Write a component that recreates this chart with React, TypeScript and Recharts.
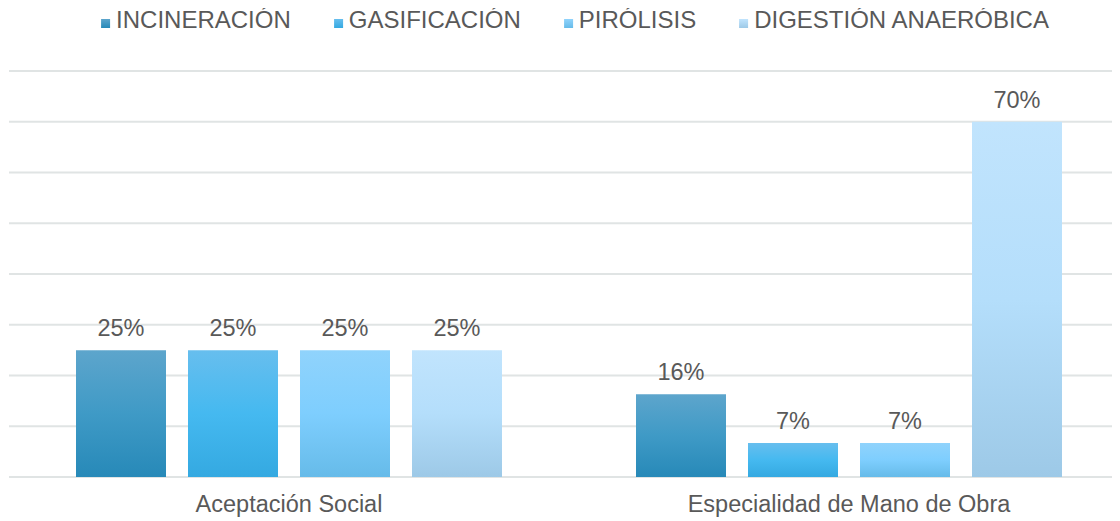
import { BarChart, Bar, XAxis, YAxis, CartesianGrid, LabelList } from "recharts";

const categories = ["Aceptación Social", "Especialidad de Mano de Obra"];
const incineracion = [25, 16.3];
const gasificacion = [25, 6.7];
const pirolisis = [25, 6.7];
const digestion = [25, 70];
const yTicks = [0, 10, 20, 30, 40, 50, 60, 70, 80];

const series = [
  { key: "inc", name: "INCINERACIÓN", stops: ["#5DA5CC", "#3F9AC6", "#2789B8"] },
  { key: "gas", name: "GASIFICACIÓN", stops: ["#67BEEE", "#45B9F0", "#34A9E1"] },
  { key: "pir", name: "PIRÓLISIS", stops: ["#90D3FC", "#7ECEFE", "#66BBE9"] },
  { key: "dig", name: "DIGESTIÓN ANAERÓBICA", stops: ["#C1E4FD", "#B4DEFB", "#9DC9E7"] },
];

const data = categories.map((name, i) => ({
  name,
  inc: incineracion[i],
  gas: gasificacion[i],
  pir: pirolisis[i],
  dig: digestion[i],
}));

const textColor = "#595959";
const fontSize = 23.5;
const font = "'Liberation Sans', Arial, sans-serif";

function LegendRow() {
  return (
    <div
      style={{
        position: "absolute",
        top: -2,
        left: 567,
        transform: "translateX(-50%)",
        display: "flex",
        gap: 43,
        whiteSpace: "nowrap",
        fontFamily: font,
        fontSize: 24,
        lineHeight: "28px",
        color: textColor,
      }}
    >
      {series.map((s) => (
        <div key={s.key} style={{ display: "flex", alignItems: "flex-end", height: 28 }}>
          <span
            style={{
              display: "inline-block",
              width: 9,
              height: 9,
              marginRight: 6,
              marginBottom: 6,
              background: `linear-gradient(${s.stops[0]}, ${s.stops[2]})`,
            }}
          />
          <span>{s.name}</span>
        </div>
      ))}
    </div>
  );
}

export default function App() {
  return (
    <div style={{ position: "relative", width: 1112, height: 513, fontFamily: font }}>
      <div style={{ width: 1112, height: 513, overflow: "hidden" }}>
        <BarChart
          width={1122}
          height={513}
          data={data}
          margin={{ top: 63, right: 1, left: 1, bottom: 0 }}
          barSize={90}
          barGap={22}
        >
          <defs>
            {series.map((s) => (
              <linearGradient key={s.key} id={`grad-${s.key}`} x1="0" y1="0" x2="0" y2="1">
                <stop offset="0%" stopColor={s.stops[0]} />
                <stop offset="50%" stopColor={s.stops[1]} />
                <stop offset="100%" stopColor={s.stops[2]} />
              </linearGradient>
            ))}
          </defs>
          <CartesianGrid vertical={false} stroke="#E0E4E4" strokeWidth={2} />
          <XAxis
            dataKey="name"
            axisLine={false}
            tickLine={false}
            height={44}
            tickMargin={12}
            tick={{ fill: textColor, fontSize, fontFamily: font }}
          />
          <YAxis hide domain={[0, 80]} ticks={yTicks} />
          {series.map((s) => (
            <Bar key={s.key} dataKey={s.key} name={s.name} fill={`url(#grad-${s.key})`} isAnimationActive={false}>
              <LabelList
                dataKey={s.key}
                position="top"
                offset={14}
                fill={textColor}
                fontSize={fontSize}
                fontFamily={font}
                formatter={(v: number) => `${Math.round(v)}%`}
              />
            </Bar>
          ))}
        </BarChart>
      </div>
      <LegendRow />
    </div>
  );
}
